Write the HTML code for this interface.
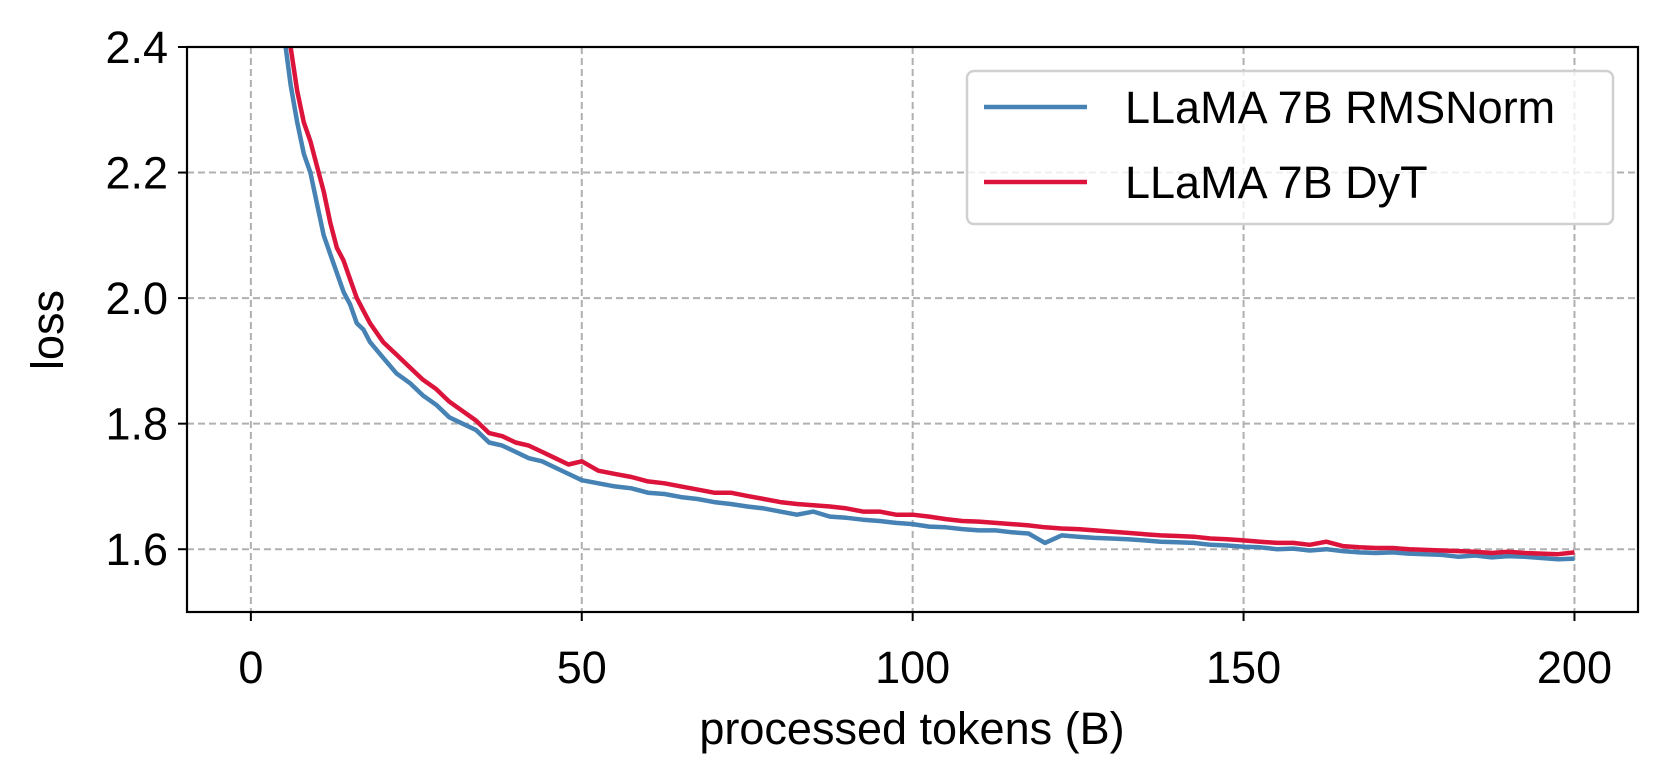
<!DOCTYPE html>
<html><head><meta charset="utf-8"><style>
body{margin:0;background:#fff;}
svg{display:block;font-family:"Liberation Sans",Arial,sans-serif;}
</style></head><body>
<svg id="chart" width="1659" height="774" viewBox="0 0 1659 774" xmlns="http://www.w3.org/2000/svg">
<defs><clipPath id="plotclip"><rect x="187" y="47" width="1451" height="565"/></clipPath></defs>
<g id="grid"></g>
<g id="series" clip-path="url(#plotclip)"></g>
<rect x="187" y="47" width="1451" height="565" fill="none" stroke="#000" stroke-width="2.2"/>
<g id="ticks"></g>
<text x="0" y="0" transform="translate(63,330) rotate(-90)" text-anchor="middle" font-size="45">loss</text>
<text x="912" y="744" text-anchor="middle" font-size="45">processed tokens (B)</text>
<g>
<rect x="967" y="71" width="646" height="153" rx="7" fill="#fff" fill-opacity="0.8" stroke="#d0d0d0" stroke-width="2.5"/>
<line x1="984" y1="107" x2="1087" y2="107" stroke="#4682b4" stroke-width="4.5"/>
<text x="1125" y="123" font-size="45">LLaMA 7B RMSNorm</text>
<line x1="984" y1="182" x2="1087" y2="182" stroke="#dc143c" stroke-width="4.5"/>
<text x="1125" y="198" font-size="45">LLaMA 7B DyT</text>
</g>
</svg>
<script>
const xTicks=[0,50,100,150,200];
const yTicks=[1.6,1.8,2.0,2.2,2.4];
const yTickLabels=["1.6","1.8","2.0","2.2","2.4"];
const tokens=[4,5,6,7,8,9,10,11,12,13,14,15,16,17,18,20,22,24,26,28,30,32,34,36,38,40,42,44,46,48,50,52.5,55,57.5,60,62.5,65,67.5,70,72.5,75,77.5,80,82.5,85,87.5,90,92.5,95,97.5,100,102.5,105,107.5,110,112.5,115,117.5,120,122.5,125,127.5,130,132.5,135,137.5,140,142.5,145,147.5,150,152.5,155,157.5,160,162.5,165,167.5,170,172.5,175,177.5,180,182.5,185,187.5,190,192.5,195,197.5,200];
const rmsnormLoss=[2.55,2.42,2.34,2.28,2.23,2.20,2.15,2.10,2.07,2.04,2.01,1.99,1.96,1.95,1.93,1.905,1.88,1.865,1.845,1.83,1.81,1.80,1.79,1.77,1.765,1.755,1.745,1.74,1.73,1.72,1.71,1.705,1.70,1.697,1.69,1.688,1.683,1.68,1.675,1.672,1.668,1.665,1.66,1.655,1.66,1.652,1.65,1.647,1.645,1.642,1.64,1.636,1.635,1.632,1.63,1.63,1.627,1.625,1.61,1.622,1.62,1.618,1.617,1.616,1.614,1.612,1.611,1.61,1.607,1.606,1.604,1.603,1.60,1.601,1.598,1.60,1.597,1.595,1.594,1.595,1.593,1.592,1.591,1.588,1.59,1.587,1.589,1.588,1.586,1.584,1.585];
const dytLoss=[2.7,2.52,2.40,2.33,2.28,2.25,2.21,2.17,2.12,2.08,2.06,2.03,2.00,1.98,1.96,1.93,1.91,1.89,1.87,1.855,1.835,1.82,1.805,1.785,1.78,1.77,1.765,1.755,1.745,1.735,1.74,1.725,1.72,1.715,1.708,1.705,1.70,1.695,1.69,1.69,1.685,1.68,1.675,1.672,1.67,1.668,1.665,1.66,1.66,1.655,1.655,1.652,1.648,1.645,1.644,1.642,1.64,1.638,1.635,1.633,1.632,1.63,1.628,1.626,1.624,1.622,1.621,1.62,1.617,1.616,1.614,1.612,1.61,1.61,1.607,1.612,1.605,1.603,1.602,1.602,1.60,1.599,1.598,1.597,1.596,1.594,1.596,1.594,1.593,1.592,1.595];

const NS="http://www.w3.org/2000/svg";
const X0=187,X1=1638,Y0=47,Y1=612;
const xMin=-9.65,xMax=209.6,yMin=1.5,yMax=2.4;
function sx(v){return X0+(v-xMin)/(xMax-xMin)*(X1-X0);}
function sy(v){return Y1-(v-yMin)/(yMax-yMin)*(Y1-Y0);}
const grid=document.getElementById('grid'),ticks=document.getElementById('ticks'),series=document.getElementById('series');
function mk(tag,attrs,parent){const e=document.createElementNS(NS,tag);for(const k in attrs)e.setAttribute(k,attrs[k]);parent.appendChild(e);return e;}
xTicks.forEach(t=>{
  const x=sx(t);
  const g=mk('line',{x1:x,y1:Y0,x2:x,y2:Y1,stroke:'#b0b0b0','stroke-width':2,'stroke-dasharray':'7,4'},grid);
  
  
  const tk=mk('line',{x1:x,y1:Y1,x2:x,y2:Y1+9,stroke:'#000','stroke-width':2},ticks);
  
  
  const tl=mk('text',{x:x,y:683,'text-anchor':'middle','font-size':45},ticks);
  tl.textContent=String(t);
  
  
});
yTicks.forEach((t,i)=>{
  const y=sy(t);
  const g=mk('line',{x1:X0,y1:y,x2:X1,y2:y,stroke:'#b0b0b0','stroke-width':2,'stroke-dasharray':'7,4'},grid);
  
  
  const tk=mk('line',{x1:X0-9,y1:y,x2:X0,y2:y,stroke:'#000','stroke-width':2},ticks);
  
  
  const tl=mk('text',{x:X0-19,y:y+16,'text-anchor':'end','font-size':45},ticks);
  tl.textContent=yTickLabels[i];
  
  
});
function line(vals,color,name){
  const d=tokens.map((t,i)=>(i?'L':'M')+sx(t).toFixed(1)+','+sy(vals[i]).toFixed(1)).join(' ');
  const p=mk('path',{d:d,fill:'none',stroke:color,'stroke-width':4.5,'stroke-linejoin':'round'},series);
  
  
}
line(rmsnormLoss,'#4682b4','rmsnorm-line');
line(dytLoss,'#dc143c','dyt-line');
</script>
</body></html>
